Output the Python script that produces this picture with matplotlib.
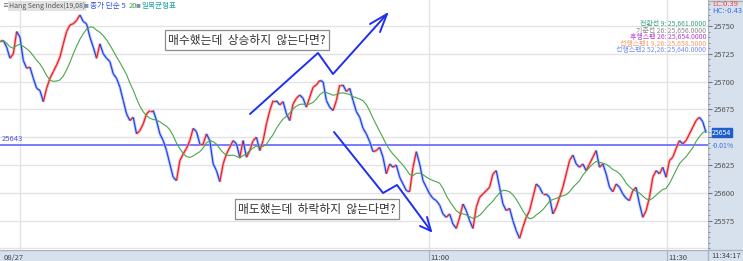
import numpy as np
import pandas as pd
import matplotlib.pyplot as plt
from matplotlib.collections import LineCollection
from matplotlib.transforms import blended_transform_factory

plt.rcParams['font.family'] = ['Noto Sans CJK KR', 'DejaVu Sans']

# price path, one sample every ~25 s starting 10:05:54
price = [25736, 25737, 25731, 25721, 25725, 25745, 25740, 25719, 25712, 25713,
         25703, 25694, 25692, 25682, 25694, 25703, 25709, 25715, 25722, 25734,
         25745, 25751, 25752, 25755, 25760, 25754, 25752, 25740, 25731, 25721,
         25734, 25725, 25721, 25718, 25707, 25703, 25695, 25683,
         25671, 25665, 25668, 25653, 25656, 25662, 25671, 25674, 25674, 25665,
         25653, 25647, 25638, 25626, 25614, 25611, 25629, 25635, 25640, 25647,
         25658, 25655, 25644, 25644, 25653, 25647, 25626, 25620, 25610, 25626,
         25635, 25641, 25647, 25644, 25632, 25647,
         25632, 25638, 25647, 25650, 25638, 25647, 25662, 25674, 25683, 25683,
         25679, 25682, 25671, 25665, 25680, 25685, 25688, 25685, 25677, 25686,
         25695, 25697, 25701, 25700, 25683, 25677, 25674, 25683, 25697, 25697,
         25691, 25694, 25683, 25673, 25668, 25658,
         25653, 25646, 25637, 25638, 25641, 25632, 25617, 25626, 25623, 25625,
         25614, 25608, 25602, 25601, 25623, 25637, 25626, 25611, 25605, 25599,
         25595, 25593, 25589, 25581, 25578, 25581, 25572, 25568, 25578, 25590,
         25584, 25575, 25568, 25587, 25596, 25599,
         25602, 25605, 25617, 25620, 25605, 25590, 25584, 25586, 25575, 25566,
         25559, 25569, 25578, 25584, 25596, 25608, 25605, 25599, 25599, 25596,
         25581, 25587, 25596, 25605, 25617, 25629, 25634, 25626, 25623, 25626,
         25620, 25626, 25632, 25638, 25623, 25626,
         25617, 25605, 25601, 25608, 25605, 25599, 25595, 25593, 25602, 25605,
         25590, 25578, 25584, 25596, 25614, 25620, 25617, 25623, 25614, 25629,
         25632, 25640, 25647, 25644, 25647, 25653, 25659, 25665, 25668, 25664,
         25654]

start_min = 10 * 60 + 5.9
step_min = 0.42
ma_window = 9

ref_price = 25643
last_price = 25654
last_change = "-0.01%"
y_ticks = [25575, 25600, 25625, 25650, 25675, 25700, 25725, 25750]
y_grid = [25550, 25575, 25600, 25625, 25650, 25675, 25700, 25725, 25750]
x_marks = [10 * 60 + 8.4, 11 * 60, 11 * 60 + 30]
x_labels = ["08/27", "11:00", "11:30"]

ichimoku_text = ["전환선 9: 25,661.0000", "기준선 26: 25,656.0000", "후행스팬 26: 25,654.0000",
                 "선행스팬1 9,26: 25,658.5000", "선행스팬2 52,26: 25,640.0000"]
ichimoku_color = ["#3aa37a", "#8a8a8a", "#b040d8", "#f0a060", "#6f8ff0"]

note_up = "매수했는데  상승하지  않는다면?"
note_down = "매도했는데  하락하지  않는다면?"

# hand drawn arrows, in figure pixels (x from left, y from top)
arrow_up = [(250, 114), (318, 53), (333, 74), (387, 14)]
arrow_up_head = [(370, 24), (387, 14), (380, 32)]
arrow_dn = [(334, 132), (383, 193), (397, 185), (431, 231)]
arrow_dn_head = [(420, 226), (431, 231), (427, 217)]

W, H = 743, 261
panel = "#d7e1ee"

p = np.array(price, dtype=float)
t = start_min + np.arange(len(p)) * step_min
ma = pd.Series(p).rolling(ma_window, min_periods=1).mean()

fig = plt.figure(figsize=(W / 100, H / 100), dpi=100)
fig.patch.set_facecolor("white")

# right and bottom panels
bg = fig.add_axes([0, 0, 1, 1], zorder=0)
bg.set_xlim(0, W)
bg.set_ylim(H, 0)
bg.axis("off")
bg.add_patch(plt.Rectangle((708, 0), W - 708, H, color=panel, lw=0))
bg.add_patch(plt.Rectangle((0, 250), W, H - 250, color=panel, lw=0))
bg.plot([0, W], [250, 250], color="#a9b3c2", lw=1)
bg.plot([708, 708], [0, H], color="#a9b3c2", lw=1)
bg.plot([0, W], [0.5, 0.5], color="#b0b0b0", lw=1)

ax = fig.add_axes([0, 11 / H, 708 / W, 250 / H], zorder=1)
ax.set_facecolor("white")
ax.set_xlim(start_min, start_min + 708 / 7.93)
ax.set_ylim(25548.6, 25773.4)
for s in ax.spines.values():
    s.set_visible(False)

for g in y_grid:
    ax.axhline(g, color="#e3e3e3", lw=1, zorder=1)
for m in x_marks:
    ax.axvline(m, color="#e3e3e3", lw=1, zorder=1)

ax.axhline(ref_price, color="#7070ff", lw=1.3, zorder=2)
ax.text(start_min + 0.2, ref_price + 1.5, str(ref_price), color="#5050ee", fontsize=5.5,
        va="bottom", ha="left")

# candles as up/down segments
segs = [[(t[i - 1], p[i - 1]), (t[i], p[i])] for i in range(1, len(p))]
up = [p[i] >= p[i - 1] for i in range(1, len(p))]
halo = ["#f5a3a3" if u else "#a8bdf2" for u in up]
core = ["#e8202a" if u else "#2443e8" for u in up]
ax.add_collection(LineCollection(segs, colors=halo, linewidths=2.2, alpha=0.7, zorder=3))
ax.add_collection(LineCollection(segs, colors=core, linewidths=0.9, zorder=4))
ax.plot(t, ma, color="#4aa64a", lw=0.8, zorder=5)

# right axis (the 25650 label sits under the last-price box)
ax.yaxis.tick_right()
ax.set_yticks(y_ticks)
ax.set_yticklabels(["" if abs(v - last_price) < 10 else str(v) for v in y_ticks],
                   fontsize=5.5, color="#555555")
ax.set_yticks(np.arange(25550, 25775, 5), minor=True)
ax.tick_params(axis="y", which="major", length=3, pad=1, color="#777777", direction="out")
ax.tick_params(axis="y", which="minor", length=1.5, color="#888888", direction="out")
ax.set_xticks([])

# bottom labels
tr = blended_transform_factory(ax.transData, ax.transAxes)
for m, lab in zip(x_marks, x_labels):
    xm = start_min + 0.25 if lab == "08/27" else m
    ax.text(xm + 0.2, -0.015, lab, transform=tr, fontsize=5.5, color="#444444",
            va="top", ha="left", clip_on=False)
    if lab != "08/27":
        ax.plot([m, m], [-0.045, 0], transform=tr, color="#a9b3c2", lw=0.8, clip_on=False)
fig.text(711 / W, 1 - 255.5 / H, "11:34:17", fontsize=5.5, color="#444444", va="center")

# last price box
ax.annotate(str(last_price), xy=(1.0, last_price), xycoords=("axes fraction", "data"),
            xytext=(3, 0), textcoords="offset points", fontsize=5, color="white",
            va="center", ha="left",
            bbox=dict(boxstyle="square,pad=0.08", fc="#1f5fcc", ec="#1f5fcc"))
fig.text(712 / W, 1 - 145.5 / H, last_change, fontsize=5, color="#3a6fdc", va="center")
fig.text(712 / W, 1 - 4.5 / H, "LC:0.39", fontsize=5.5, color="#ee4444", va="center")
fig.text(712 / W, 1 - 11 / H, "HC:-0.43", fontsize=5.5, color="#3a6fdc", va="center")

# legends
fig.text(2 / W, 1 - 6 / H, "≡", fontsize=5, color="#666666", va="center")
fig.text(9 / W, 1 - 6 / H, "Hang Seng Index(19,08)", fontsize=5, color="#555555",
         va="center", bbox=dict(boxstyle="square,pad=0.15", fc="#e2e2e2", ec="none"))
fig.text(84 / W, 1 - 6 / H, "■", fontsize=3.5, color="#8090b0", va="center")
fig.text(90 / W, 1 - 6 / H, "종가 단순 5", fontsize=5.5, color="#2f4fe0", va="center")
fig.text(128.5 / W, 1 - 6 / H, "20", fontsize=5.5, color="#3aa63a", va="center")
fig.text(136 / W, 1 - 6 / H, "■", fontsize=3.5, color="#8090b0", va="center")
fig.text(141 / W, 1 - 6 / H, "일목균형표", fontsize=5.5, color="#1fa0a0", va="center")

for k, (s, c) in enumerate(zip(ichimoku_text, ichimoku_color)):
    fig.text(706 / W, 1 - (24 + 6.5 * k) / H, s, fontsize=5, color=c, va="center", ha="right")

# notes
box = dict(boxstyle="square,pad=0.3", fc="white", ec="#8c8c8c", lw=0.9)
fig.text(247 / W, 1 - 40 / H, note_up, fontsize=8.5, color="#333333", ha="center",
         va="center", bbox=box)
fig.text(317 / W, 1 - 209 / H, note_down, fontsize=8.5, color="#333333", ha="center",
         va="center", bbox=box)

ov = fig.add_axes([0, 0, 1, 1], zorder=3)
ov.set_xlim(0, W)
ov.set_ylim(H, 0)
ov.axis("off")
ov.patch.set_alpha(0)
for path in [arrow_up, arrow_up_head, arrow_dn, arrow_dn_head]:
    xs = [a[0] for a in path]
    ys = [a[1] for a in path]
    ov.plot(xs, ys, color="#1f2ff0", lw=1.4, solid_capstyle="round")

plt.savefig("out.png", dpi=100)
